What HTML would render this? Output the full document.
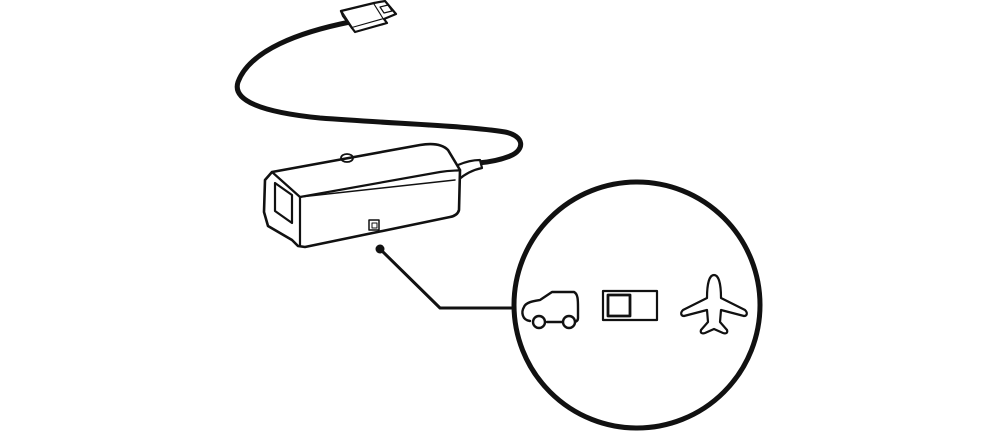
<!DOCTYPE html>
<html><head><style>html,body{margin:0;padding:0;background:#fff}svg{display:block}</style></head>
<body>
<svg width="1000" height="433" viewBox="0 0 1000 433" xmlns="http://www.w3.org/2000/svg" fill="none" stroke="#111" stroke-linejoin="round" stroke-linecap="round">
<!-- cable -->
<path d="M350,22 C300,32 250,50 238,82 C232,100 260,112 320,118 C400,124 470,126 505,132 C525,136 525,150 510,156 C500,160 490,162 478,163" stroke-width="5"/>
<!-- plug -->
<path d="M341,11 L374,3 L384,19 L352,28 Z" stroke-width="2.2" fill="#fff"/>
<path d="M352,28 L355,32 L387,23 L384,19 M341,11 L343,16 L355,32" stroke-width="2.2" fill="#fff"/>
<path d="M374,3 L385,1 L396,14 L384,19" stroke-width="2.2" fill="#fff"/>
<path d="M380,7 L388,5 L392,11 L384,13 Z" stroke-width="1.2"/>
<!-- strain relief -->
<path d="M458,165 C465,162 472,160 480,160 L482,168 C472,170 465,174 458,180" stroke-width="2.2" fill="#fff"/>
<!-- device body -->
<path d="M272,172 L420,145 C432,143 442,144 448,150 L460,170 L459,210 C458,214 455,216 450,217 L305,247 L298,246 L292,240 L268,226 L264,212 L265,180 Z" stroke-width="2.6" fill="#fff"/>
<path d="M272,172 L300,197 L440,172 C452,170 458,171 460,170" stroke-width="2.2"/>
<path d="M300,197 L300,245" stroke-width="2.2"/>
<path d="M300,197 L455,180" stroke-width="1.5"/>
<path d="M275,183 L292,195 L292,223 L275,211 Z" stroke-width="2.2"/>
<ellipse cx="347" cy="158" rx="6" ry="4" stroke-width="1.8"/>
<rect x="369" y="220" width="10" height="10" stroke-width="1.5"/>
<rect x="372" y="223" width="5" height="5" stroke-width="1"/>
<!-- leader -->
<circle cx="380" cy="249" r="4.5" fill="#111" stroke="none"/>
<path d="M380,249 L440,308 L515,308" stroke-width="3"/>
<!-- circle -->
<circle cx="637" cy="305" r="123" stroke-width="5"/>
<!-- car -->
<path d="M530,321 C522,320 521,312 524,307 C526,302 534,301 540,300 L552,292 L574,292 C578,294 578,300 578,308 L578,318 C578,321 576,322 573,322" stroke-width="2.4"/>
<path d="M547,322 L563,322" stroke-width="2.4"/>
<circle cx="539" cy="322" r="6" stroke-width="2.4" fill="#fff"/>
<circle cx="569" cy="322" r="6" stroke-width="2.4" fill="#fff"/>
<!-- slider -->
<rect x="603" y="291" width="54" height="29" stroke-width="2.2"/>
<rect x="608" y="295" width="22" height="21" stroke-width="2.8"/>
<!-- plane -->
<path d="M714,275 C719,275 721,285 721,298 L745,310 C748,313 747,316 744,316 L721,310 L720,322 L727,330 C728,333 726,334 723,333 L714,329 L705,333 C702,334 700,333 701,330 L708,322 L707,310 L684,316 C681,316 680,313 683,310 L707,298 C707,285 709,275 714,275 Z" stroke-width="2.2"/>
</svg>
</body></html>
